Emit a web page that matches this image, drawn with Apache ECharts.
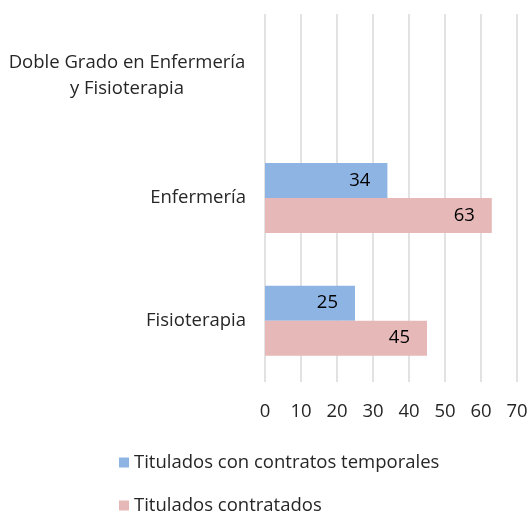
<!DOCTYPE html>
<html>
<head>
<meta charset="utf-8">
<script src="https://cdn.jsdelivr.net/npm/echarts@6/dist/echarts.min.js"></script>
<style>
  html, body { margin: 0; padding: 0; background: #fff; }
  #chart { width: 531px; height: 511px; }
</style>
</head>
<body>
<div id="chart"></div>
<script>
const categories = ['Doble Grado en Enfermería\ny Fisioterapia', 'Enfermería', 'Fisioterapia']
const temporales = [null, 34, 25]
const contratados = [null, 63, 45]
const seriesNames = ['Titulados con contratos temporales', 'Titulados contratados']

const font = '"Open Sans", sans-serif'
const textColor = '#262626'
const fs = 18.5

const chart = echarts.init(document.getElementById('chart'))

chart.setOption({
  animation: false,
  textStyle: { fontFamily: font },
  color: ['#8EB4E3', '#E6B9B8'],
  grid: { left: 265, right: 14, top: 14, bottom: 129 },
  legend: {
    orient: 'vertical',
    left: 114,
    top: 448,
    height: 70,
    itemWidth: 10,
    itemHeight: 10,
    itemGap: 24,
    icon: 'rect',
    textStyle: { fontSize: fs, color: textColor, fontFamily: font },
    data: seriesNames,
  },
  xAxis: {
    type: 'value',
    min: 0,
    max: 70,
    interval: 10,
    axisLine: { show: false },
    axisTick: { show: false },
    axisLabel: { fontSize: fs, color: textColor, margin: 20, fontFamily: font },
    splitLine: { lineStyle: { color: '#D9D9D9', width: 1.5 } },
  },
  yAxis: {
    type: 'category',
    inverse: true,
    data: categories,
    axisLine: { show: false },
    axisTick: { show: false },
    axisLabel: {
      fontSize: fs,
      color: textColor,
      margin: 19,
      fontFamily: font,
      lineHeight: 26,
      formatter: (v) => (v.indexOf('\n') >= 0 ? v.split('\n').map((s) => '{c|' + s + '}').join('\n') : v),
      rich: {
        c: { width: 238, align: 'center', fontSize: fs, color: textColor, fontFamily: font, lineHeight: 26 },
      },
    },
  },
  series: [
    {
      name: seriesNames[0],
      type: 'bar',
      data: temporales,
      barGap: '0%',
      barCategoryGap: '43%',
      label: { show: true, position: 'insideRight', distance: 17, fontSize: fs, color: '#000', fontFamily: font },
    },
    {
      name: seriesNames[1],
      type: 'bar',
      data: contratados,
      label: { show: true, position: 'insideRight', distance: 17, fontSize: fs, color: '#000', fontFamily: font },
    },
  ],
})
</script>
</body>
</html>
